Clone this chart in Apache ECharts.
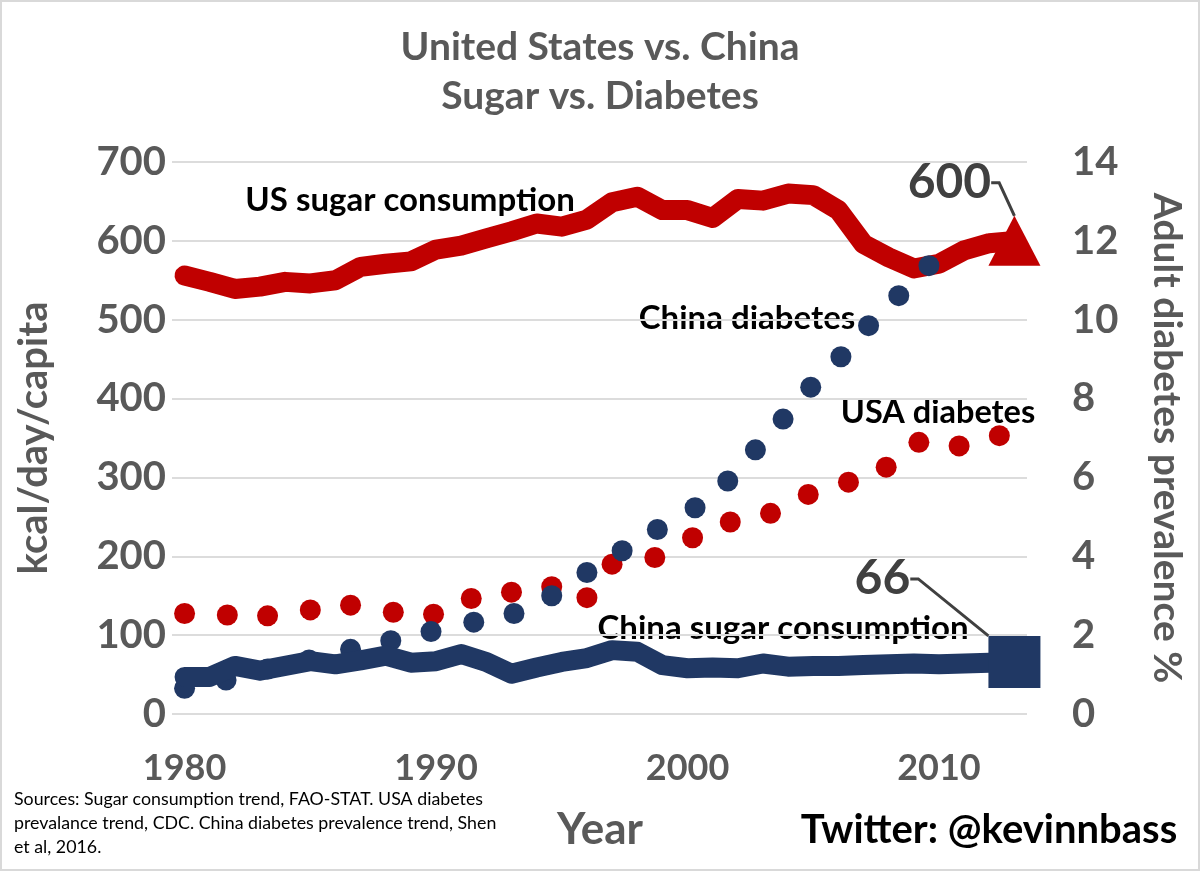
<!DOCTYPE html>
<html><head><meta charset="utf-8">
<script src="https://cdn.jsdelivr.net/npm/echarts@6/dist/echarts.min.js"></script>
<style>
html,body{margin:0;padding:0;background:#fff}
#chart{width:1200px;height:871px}
#frame{position:absolute;left:0;top:0;width:1200px;height:871px;box-sizing:border-box;border:2px solid #d9d9d9;pointer-events:none}
</style>
</head><body><div id="chart"></div><div id="frame"></div>
<script>
// ---- data ----
const years = [1980,1981,1982,1983,1984,1985,1986,1987,1988,1989,1990,1991,1992,1993,1994,1995,1996,
  1997,1998,1999,2000,2001,2002,2003,2004,2005,2006,2007,2008,2009,2010,2011,2012,2013];
const usSugar = [556,548,539,542,548,546,550,567,571,574,589,594,603,612,622,618,627,
  649,656,639,639,629,653,651,660,658,639,596,579,565,571,588,597,600];
const chinaSugar = [47,47,61,55,61,67,63,68,74,65,67,76,66,51,59,66,71,
  81,79,62,58,59,58,64,60,61,61,62,63,64,63,64,65,66];
const usaDiabYears = [1980.0,1981.7,1983.3,1985.0,1986.6,1988.3,1989.9,1991.4,1993.0,1994.6,1996.0,
  1997.0,1998.7,2000.2,2001.7,2003.3,2004.8,2006.4,2007.9,2009.2,2010.8,2012.4];
const usaDiab = [2.55,2.51,2.49,2.64,2.76,2.58,2.53,2.93,3.09,3.23,2.95,
  3.80,3.97,4.47,4.87,5.09,5.57,5.88,6.26,6.89,6.80,7.06];
const chinaDiabYears = [1980.0,1981.65,1983.3,1984.95,1986.6,1988.2,1989.8,1991.5,1993.1,1994.6,1996.0,
  1997.4,1998.8,2000.3,2001.6,2002.7,2003.8,2004.9,2006.1,2007.2,2008.4,2009.6];
const chinaDiab = [0.65,0.86,1.14,1.37,1.64,1.86,2.09,2.33,2.55,3.00,3.59,
  4.14,4.68,5.23,5.91,6.70,7.48,8.29,9.06,9.85,10.61,11.37];
const xTickLabels = [1980,1990,2000,2010];
const leftTicks = {min:0, max:700, interval:100};
const rightTicks = {min:0, max:14, interval:2};

// ---- styling ----
const RED = '#C00000', NAVY = '#203864', GRAY = '#595959', DARK = '#404040';
const FONT = 'Lato';
const pairs = (xs, ys) => xs.map((x, i) => [x, ys[i]]);
const last = years.length - 1;

const chart = echarts.init(document.getElementById('chart'), null, {renderer:'canvas'});
const txt = (text, x, y, size, color, weight, align) => ({
  type:'text', x, y, silent:true,
  style:{text, fill:color, font:(weight||'bold')+' '+size+'px '+FONT, textAlign:align||'center', textVerticalAlign:'middle'}
});

chart.setOption({
  animation:false,
  backgroundColor:'#fff',
  title:{
    text:'United States vs. China\nSugar vs. Diabetes', left:'center', top:18,
    textStyle:{fontFamily:FONT, fontSize:39, fontWeight:'bold', color:GRAY, lineHeight:49}
  },
  grid:{left:172, right:173, top:162, bottom:157, containLabel:false},
  xAxis:{
    type:'value', min:1979.5, max:2013.5,
    axisLine:{show:false}, axisTick:{show:false}, splitLine:{show:false},
    axisLabel:{customValues:xTickLabels, formatter:v => String(v), margin:36,
      fontFamily:FONT, fontSize:36, fontWeight:'bold', color:GRAY}
  },
  yAxis:[{
    type:'value', min:leftTicks.min, max:leftTicks.max, interval:leftTicks.interval,
    name:'kcal/day/capita', nameLocation:'middle', nameRotate:90, nameGap:118,
    nameTextStyle:{fontFamily:FONT, fontSize:40, fontWeight:'bold', color:GRAY},
    axisLine:{show:false}, axisTick:{show:false},
    splitLine:{lineStyle:{color:'#dcdcdc', width:2}},
    axisLabel:{margin:6, fontFamily:FONT, fontSize:40, fontWeight:'bold', color:GRAY}
  },{
    type:'value', min:rightTicks.min, max:rightTicks.max, interval:rightTicks.interval,
    position:'right',
    name:'Adult diabetes prevalence %', nameLocation:'middle', nameRotate:-90, nameGap:120,
    nameTextStyle:{fontFamily:FONT, fontSize:39, fontWeight:'bold', color:GRAY},
    axisLine:{show:false}, axisTick:{show:false}, splitLine:{show:false},
    axisLabel:{margin:45, fontFamily:FONT, fontSize:40, fontWeight:'bold', color:GRAY}
  }],
  series:[
    {type:'line', name:'US sugar consumption', yAxisIndex:0, data:pairs(years, usSugar), z:1,
     symbol:'none', lineStyle:{color:RED, width:20, cap:'round', join:'round', opacity:1}},
    {type:'scatter', name:'USA diabetes', yAxisIndex:1, data:pairs(usaDiabYears, usaDiab), z:2,
     symbolSize:21, itemStyle:{color:RED, opacity:1}},
    {type:'scatter', name:'China diabetes', yAxisIndex:1, data:pairs(chinaDiabYears, chinaDiab), z:2,
     symbolSize:21, itemStyle:{color:NAVY, opacity:1}},
    {type:'line', name:'China sugar consumption', yAxisIndex:0, data:pairs(years, chinaSugar), z:3,
     symbol:'none', lineStyle:{color:NAVY, width:20, cap:'round', join:'round', opacity:1}},
    {type:'scatter', name:'US end', yAxisIndex:0, data:[[years[last], usSugar[last]]], z:4,
     symbol:'triangle', symbolSize:[52,50], itemStyle:{color:RED, opacity:1},
     label:{show:true, position:'inside', formatter:p => String(p.value[1]),
       fontFamily:FONT, fontSize:48, fontWeight:'bold', color:DARK},
     labelLayout:{dx:-65, dy:-58},
     labelLine:{show:true, length2:8, lineStyle:{color:DARK, width:3, opacity:1}}},
    {type:'scatter', name:'China end', yAxisIndex:0, data:[[years[last], chinaSugar[last]]], z:4,
     symbol:'rect', symbolSize:[52,52], itemStyle:{color:NAVY, opacity:1},
     label:{show:true, position:'inside', formatter:p => String(p.value[1]),
       fontFamily:FONT, fontSize:48, fontWeight:'bold', color:DARK},
     labelLayout:{dx:-132, dy:-83},
     labelLine:{show:true, length2:8, lineStyle:{color:DARK, width:3, opacity:1}}}
  ],
  graphic:[
    txt('US sugar consumption', 410, 200, 33, '#000'),
    txt('China diabetes', 747, 318, 33, '#000'),
    txt('USA diabetes', 938, 413, 32.5, '#000'),
    txt('China sugar consumption', 783, 628, 33, '#000'),
    txt('Year', 600, 830, 44, GRAY),
    txt('Twitter: @kevinnbass', 989, 830, 40, '#000'),
    txt('Sources: Sugar consumption trend, FAO-STAT. USA diabetes', 14, 799, 17.8, '#000', 'normal', 'left'),
    txt('prevalance trend, CDC. China diabetes prevalence trend, Shen', 14, 823, 17.8, '#000', 'normal', 'left'),
    txt('et al, 2016.', 14, 847, 17.8, '#000', 'normal', 'left')
  ]
});
</script>
</body></html>
